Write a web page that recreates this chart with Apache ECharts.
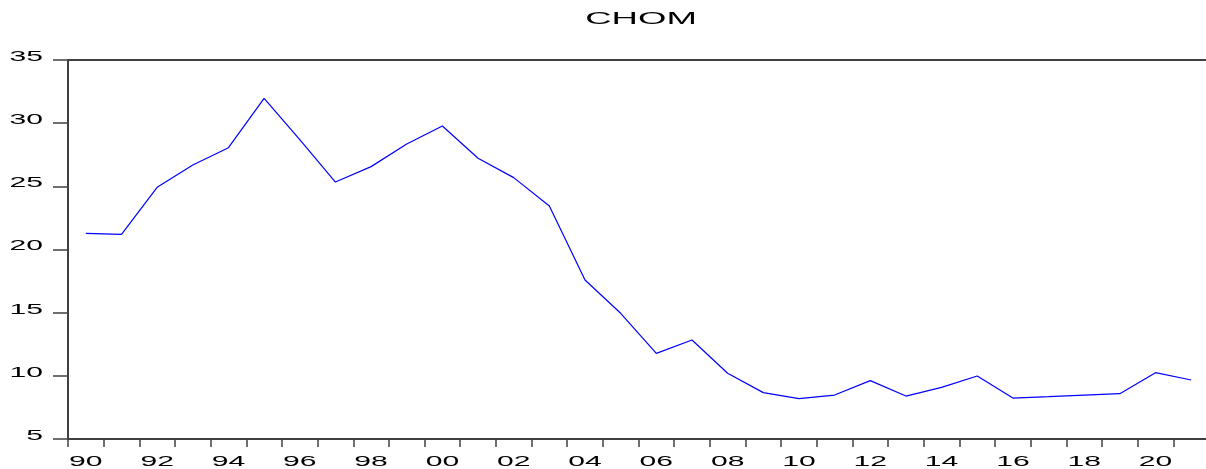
<!DOCTYPE html>
<html>
<head>
<meta charset="utf-8">
<script src="https://cdn.jsdelivr.net/npm/echarts@6/dist/echarts.min.js"></script>
<style>
html,body{margin:0;padding:0;background:#fff;}
#c{width:1206px;height:469px;}
</style>
</head>
<body>
<div id="c"></div>
<script>
const years = ['90','91','92','93','94','95','96','97','98','99','00','01','02','03','04','05','06','07','08','09','10','11','12','13','14','15','16','17','18','19','20','21'];
const chom = [21.28, 21.20, 24.92, 26.69, 28.06, 31.97, 28.7, 25.34, 26.56, 28.35, 29.78, 27.22, 25.69, 23.44, 17.59, 14.95, 11.78, 12.84, 10.20, 8.67, 8.19, 8.48, 9.62, 8.40, 9.09, 9.99, 8.24, 8.35, 8.47, 8.59, 10.25, 9.67];
const xTickLabels = ['90','92','94','96','98','00','02','04','06','08','10','12','14','16','18','20'];
const yTickLabels = [5, 10, 15, 20, 25, 30, 35];
const titleText = 'CHOM';

const FONT = 'Liberation Sans, Arial, sans-serif';
const STRETCH = 2.15;
const AXIS_COLOR = '#404040';

const chart = echarts.init(document.getElementById('c'), null, {renderer: 'canvas'});
chart.setOption({
  animation: false,
  backgroundColor: '#fff',
  grid: {left: 68, width: 1141, top: 60, bottom: 30, show: false, outerBoundsMode: 'none', containLabel: false},
  xAxis: [{
    type: 'category',
    data: years,
    boundaryGap: true,
    axisLine: {lineStyle: {color: AXIS_COLOR, width: 2}},
    axisTick: {show: true, interval: 0, length: 8, lineStyle: {color: AXIS_COLOR, width: 1.5}},
    axisLabel: {show: false},
    splitLine: {show: false}
  }, {
    type: 'category',
    position: 'top',
    data: years,
    boundaryGap: true,
    axisLine: {show: true, lineStyle: {color: AXIS_COLOR, width: 2}},
    axisTick: {show: false},
    axisLabel: {show: false},
    splitLine: {show: false}
  }],
  yAxis: {
    type: 'value',
    min: 5, max: 35, interval: 5,
    axisLine: {show: true, lineStyle: {color: AXIS_COLOR, width: 2}},
    axisTick: {show: true, length: 15, lineStyle: {color: AXIS_COLOR, width: 1.5}},
    axisLabel: {show: false},
    splitLine: {show: false}
  },
  series: [{
    type: 'line',
    xAxisIndex: 0,
    data: chom,
    showSymbol: false,
    symbol: 'none',
    lineStyle: {color: '#0000ff', width: 1.2}
  }]
});

function txt(x, y, text, size, align) {
  return {
    type: 'text', x: x, y: y, scaleX: STRETCH, scaleY: 1, silent: true,
    style: {text: text, x: 0, y: 0, font: size + 'px ' + FONT, fontSize: size, fontFamily: FONT,
      fill: '#000', textAlign: align, align: align, textVerticalAlign: 'middle', verticalAlign: 'middle'}
  };
}

const els = [];
yTickLabels.forEach(v => {
  const py = chart.convertToPixel({yAxisIndex: 0}, v);
  els.push(txt(43, py - 3, String(v), 14, 'right'));
});
xTickLabels.forEach(l => {
  const px = chart.convertToPixel({xAxisIndex: 0}, l);
  els.push(txt(px, 462, l, 14, 'center'));
});
els.push(txt(641, 19, titleText, 17, 'center'));
chart.setOption({graphic: {elements: els}});
</script>
</body>
</html>
